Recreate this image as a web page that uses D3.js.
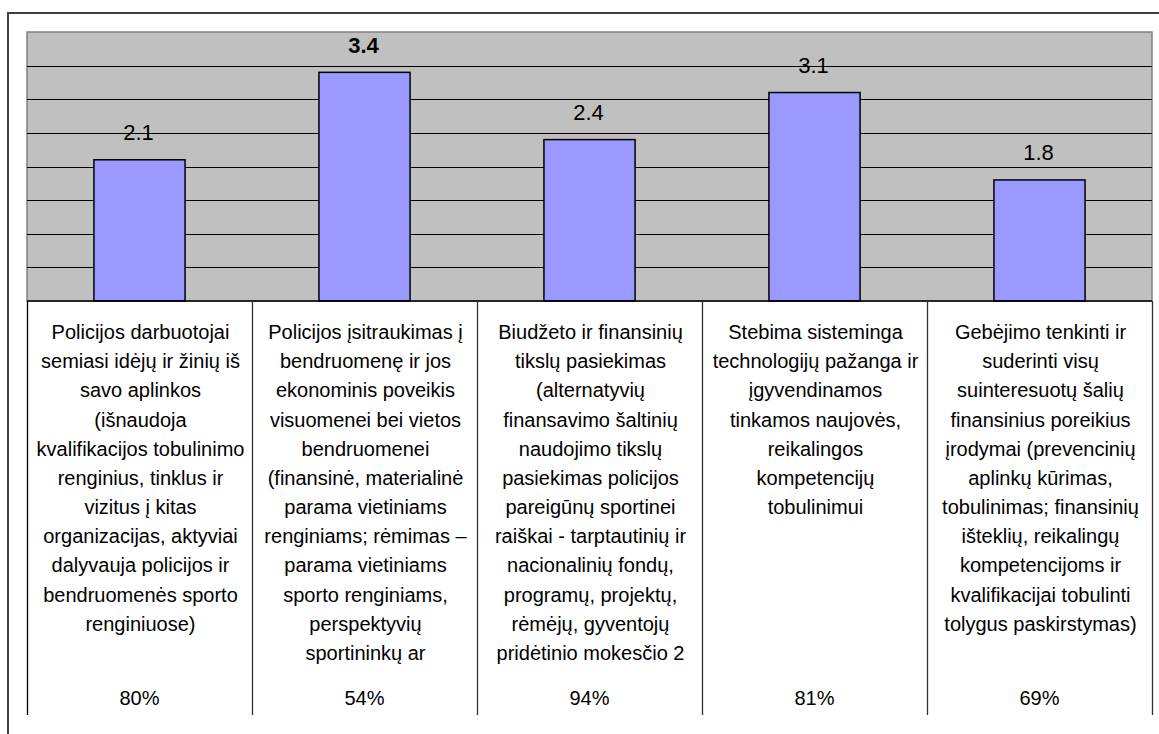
<!DOCTYPE html>
<html>
<head>
<meta charset="utf-8">
<script src="https://cdn.jsdelivr.net/npm/d3@7"></script>
<style>
  html, body { margin: 0; padding: 0; background: #fff; }
  svg { display: block; }
  text { font-family: "Liberation Sans", Arial, sans-serif; fill: #000; }
</style>
</head>
<body>
<svg id="chart" width="1159" height="734"></svg>
<script>
// ---- data ----
const categories = [
  ["Policijos darbuotojai", "semiasi idėjų ir žinių iš", "savo aplinkos", "(išnaudoja",
   "kvalifikacijos tobulinimo", "renginius, tinklus ir", "vizitus į kitas",
   "organizacijas, aktyviai", "dalyvauja policijos ir", "bendruomenės sporto", "renginiuose)"],
  ["Policijos įsitraukimas į", "bendruomenę ir jos", "ekonominis poveikis",
   "visuomenei bei vietos", "bendruomenei", "(finansinė, materialinė", "parama vietiniams",
   "renginiams; rėmimas –", "parama vietiniams", "sporto renginiams,", "perspektyvių",
   "sportininkų ar"],
  ["Biudžeto ir finansinių", "tikslų pasiekimas", "(alternatyvių", "finansavimo šaltinių",
   "naudojimo tikslų", "pasiekimas policijos", "pareigūnų sportinei",
   "raiškai - tarptautinių ir", "nacionalinių fondų,", "programų, projektų,",
   "rėmėjų, gyventojų", "pridėtinio mokesčio 2"],
  ["Stebima sisteminga", "technologijų pažanga ir", "įgyvendinamos", "tinkamos naujovės,",
   "reikalingos", "kompetencijų", "tobulinimui"],
  ["Gebėjimo tenkinti ir", "suderinti visų", "suinteresuotų šalių", "finansinius poreikius",
   "įrodymai (prevencinių", "aplinkų kūrimas,", "tobulinimas; finansinių",
   "išteklių, reikalingų", "kompetencijoms ir", "kvalifikacijai tobulinti",
   "tolygus paskirstymas)"]
];
const values = [2.1, 3.4, 2.4, 3.1, 1.8];
const percents = ["80%", "54%", "94%", "81%", "69%"];
const yTicks = [0, 0.5, 1, 1.5, 2, 2.5, 3, 3.5, 4];

// ---- layout ----
const svg = d3.select("#chart");
const plot = { left: 27, right: 1152, top: 32, bottom: 301 };
const tableBottom = 715;

const x = d3.scaleBand()
  .domain(d3.range(values.length))
  .range([plot.left, plot.right])
  .padding(0);
const y = d3.scaleLinear().domain([0, 4]).range([plot.bottom, plot.top]);
const barW = x.bandwidth() * 0.405;

// outer frame
svg.append("path")
  .attr("d", `M8,734 L8,13 L1170,13`)
  .attr("fill", "none").attr("stroke", "#404040").attr("stroke-width", 2);

// plot background
svg.append("rect")
  .attr("x", plot.left).attr("y", plot.top)
  .attr("width", plot.right - plot.left).attr("height", plot.bottom - plot.top)
  .attr("fill", "#C0C0C0").attr("stroke", "#808080").attr("stroke-width", 1.5);

// gridlines
svg.append("g").selectAll("line")
  .data(yTicks.filter(t => t > 0 && t < 4))
  .join("line")
  .attr("x1", plot.left).attr("x2", plot.right)
  .attr("y1", d => Math.round(y(d)) + 0.5).attr("y2", d => Math.round(y(d)) + 0.5)
  .attr("stroke", "#000").attr("stroke-width", 1);

// bars
const maxV = d3.max(values);
svg.append("g").selectAll("rect")
  .data(values)
  .join("rect")
  .attr("x", (d, i) => x(i) + (x.bandwidth() - barW) / 2)
  .attr("y", d => y(d))
  .attr("width", barW)
  .attr("height", d => y(0) - y(d))
  .attr("fill", "#9999FF").attr("stroke", "#000").attr("stroke-width", 1.5);

// value labels
svg.append("g").selectAll("text")
  .data(values)
  .join("text")
  .attr("x", (d, i) => x(i) + x.bandwidth() / 2 - 1)
  .attr("y", d => y(d) - 19.5)
  .attr("text-anchor", "middle")
  .attr("font-size", 22)
  .attr("font-weight", d => d === maxV ? "bold" : "normal")
  .text(d => d.toFixed(1));

// axis line
svg.append("line")
  .attr("x1", plot.left).attr("x2", plot.right)
  .attr("y1", plot.bottom).attr("y2", plot.bottom)
  .attr("stroke", "#000").attr("stroke-width", 1.5);

// table dividers
svg.append("g").selectAll("line")
  .data(d3.range(values.length + 1))
  .join("line")
  .attr("x1", i => (i < values.length ? x(i) : plot.right) + 0.5)
  .attr("x2", i => (i < values.length ? x(i) : plot.right) + 0.5)
  .attr("y1", plot.bottom).attr("y2", tableBottom)
  .attr("stroke", i => i === 0 ? "#000" : "#303030").attr("stroke-width", 1.3);

// category text
const lineH = 29.17;
const cat = svg.append("g").selectAll("text")
  .data(categories)
  .join("text")
  .attr("text-anchor", "middle")
  .attr("font-size", 20);
cat.each(function(lines, i) {
  d3.select(this).selectAll("tspan")
    .data(lines)
    .join("tspan")
    .attr("x", x(i) + x.bandwidth() / 2 + 1)
    .attr("y", (d, j) => 339 + j * lineH)
    .text(d => d);
});

// percents
svg.append("g").selectAll("text")
  .data(percents)
  .join("text")
  .attr("x", (d, i) => x(i) + x.bandwidth() / 2)
  .attr("y", 705)
  .attr("text-anchor", "middle")
  .attr("font-size", 20)
  .text(d => d);
</script>
</body>
</html>
